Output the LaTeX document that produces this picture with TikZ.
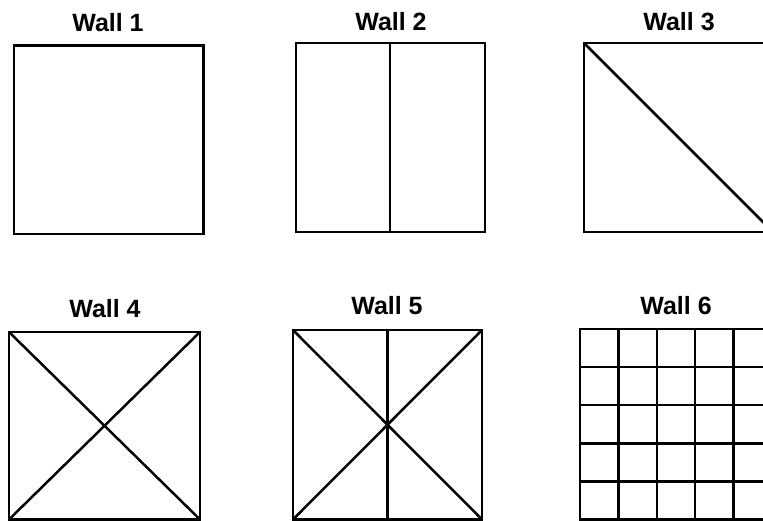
\documentclass[tikz,border=0pt]{standalone}
\usepackage{fontspec}
\setmainfont{Liberation Sans}
\begin{document}
\begin{tikzpicture}[x=1pt,y=-1pt,
  wall/.style={line width=2.5pt, line join=miter},
  wlabel/.style={anchor=base, inner sep=0pt, font=\fontsize{25}{30}\selectfont\bfseries}]
\useasboundingbox (0,0) rectangle (763,521);
\clip (0,0) rectangle (763,521);
% Wall 1
\node[wlabel] (l1) at (108,32) {Wall 1};
\draw[wall] (13.8,45.5) rectangle (203.5,234);
% Wall 2
\node[wlabel] (l2) at (391,31) {Wall 2};
\draw[wall] (296,43) rectangle (485,232);
\draw[wall] (390,43) -- (390,232);
% Wall 3
\node[wlabel] (l3) at (679,31) {Wall 3};
\draw[wall] (584,43) rectangle (773,232);
\draw[wall] (584,43) -- (773,232);
% Wall 4
\node[wlabel] (l4) at (105,317) {Wall 4};
\draw[wall] (9,332) rectangle (200,519.5);
\draw[wall] (9,332) -- (200,519.5);
\draw[wall] (200,332) -- (9,519.5);
% Wall 5
\node[wlabel] (l5) at (387,315) {Wall 5};
\draw[wall] (293,330) rectangle (482,519.5);
\draw[wall] (293,330) -- (482,519.5);
\draw[wall] (482,330) -- (293,519.5);
\draw[wall] (387.5,330) -- (387.5,519.5);
% Wall 6
\node[wlabel] (l6) at (676,315) {Wall 6};
\draw[wall] (580,329) rectangle (772,519.5);
\foreach \i in {1,2,3,4} {
  \draw[wall] (580+38.4*\i,329) -- (580+38.4*\i,519.5);
  \draw[wall] (580,329+38.1*\i) -- (772,329+38.1*\i);
}
\end{tikzpicture}
\end{document}
